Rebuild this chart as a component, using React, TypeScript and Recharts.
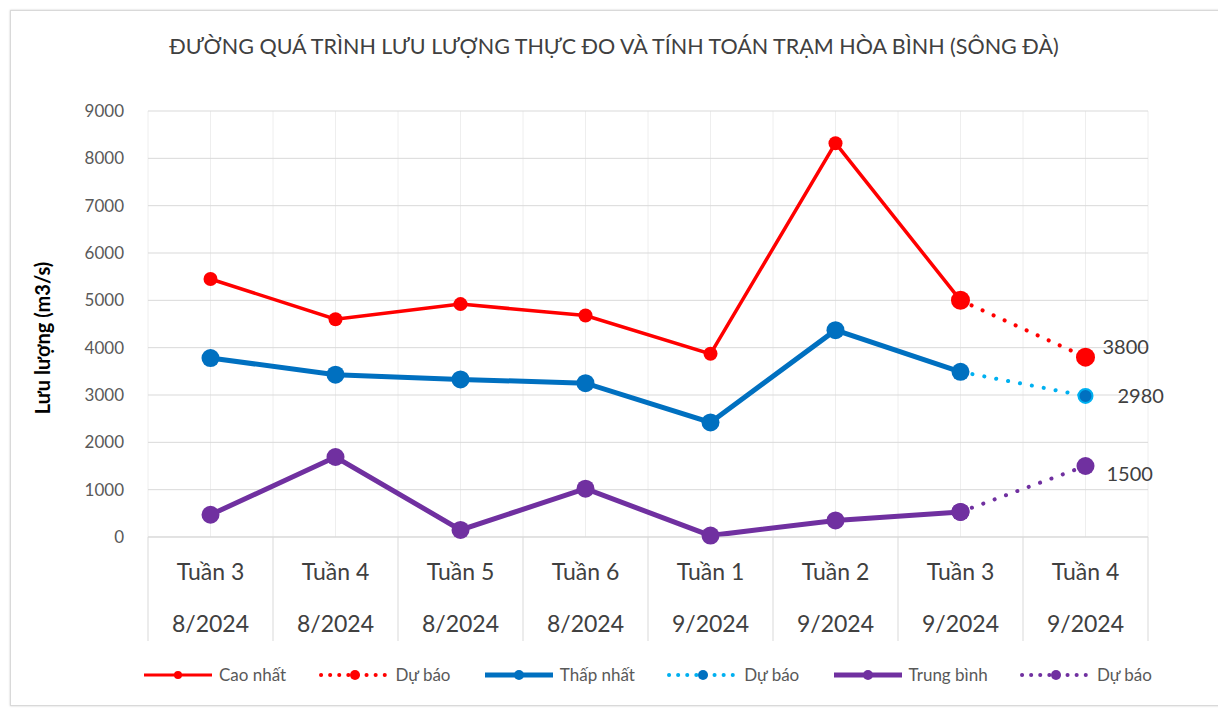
import React from "react";
import {
  ComposedChart,
  Line,
  XAxis,
  YAxis,
  CartesianGrid,
  LabelList,
} from "recharts";

const weeks = ["Tuần 3", "Tuần 4", "Tuần 5", "Tuần 6", "Tuần 1", "Tuần 2", "Tuần 3", "Tuần 4"];
const months = ["8/2024", "8/2024", "8/2024", "8/2024", "9/2024", "9/2024", "9/2024", "9/2024"];

const maxFlow = [5450, 4600, 4920, 4680, 3870, 8320, 5000, null];
const maxForecast = [null, null, null, null, null, null, 5000, 3800];
const minFlow = [3780, 3430, 3330, 3250, 2420, 4370, 3490, null];
const minForecast = [null, null, null, null, null, null, 3490, 2980];
const avgFlow = [470, 1690, 150, 1020, 30, 350, 530, null];
const avgForecast = [null, null, null, null, null, null, 530, 1500];

const yTicks = [0, 1000, 2000, 3000, 4000, 5000, 6000, 7000, 8000, 9000];

const data = weeks.map((w, i) => ({
  key: i,
  week: w,
  month: months[i],
  max: maxFlow[i],
  maxF: maxForecast[i],
  min: minFlow[i],
  minF: minForecast[i],
  avg: avgFlow[i],
  avgF: avgForecast[i],
}));

const RED = "#FF0000";
const BLUE = "#0070C0";
const LIGHT_BLUE = "#00B0F0";
const PURPLE = "#7030A0";
const FONT = "Lato, 'Open Sans', sans-serif";

const CategoryTick = (props: any) => {
  const { x, y, payload, index } = props;
  const d = data[payload.value];
  const half = 62.5;
  return (
    <g>
      <line x1={x - half} x2={x - half} y1={y - 8} y2={y + 96} stroke="#D9D9D9" />
      {index === data.length - 1 && (
        <line x1={x + half} x2={x + half} y1={y - 8} y2={y + 96} stroke="#D9D9D9" />
      )}
      <text x={x} y={y + 35} textAnchor="middle" fontSize={23} fill="#404040" fontFamily={FONT}>
        {d.week}
      </text>
      <text x={x} y={y + 87} textAnchor="middle" fontSize={23} fill="#404040" fontFamily={FONT}>
        {d.month}
      </text>
    </g>
  );
};

const endLabel = (dx: number, dy: number) => (props: any) => {
  const { x, y, value, index } = props;
  if (index !== data.length - 1 || value == null) return null;
  return (
    <text x={x + dx} y={y + dy + 7} fontSize={20} fill="#404040" fontFamily={FONT}>
      {value}
    </text>
  );
};

// forecast marker only on the last (forecast) week
const lastDot = (r: number, fill: string, stroke: string) => (props: any) => {
  const { cx, cy, index } = props;
  if (index !== data.length - 1 || cy == null) return <g key={index} />;
  return <circle key={index} cx={cx} cy={cy} r={r} fill={fill} stroke={stroke} strokeWidth={2} />;
};

const legendItems = [
  { label: "Cao nhất", color: RED, dotted: false, w: 3, r: 4 },
  { label: "Dự báo", color: RED, dotted: true, w: 3, r: 5 },
  { label: "Thấp nhất", color: BLUE, dotted: false, w: 5, r: 5 },
  { label: "Dự báo", color: LIGHT_BLUE, dotted: true, w: 3, r: 5, fill: BLUE },
  { label: "Trung bình", color: PURPLE, dotted: false, w: 5, r: 5 },
  { label: "Dự báo", color: PURPLE, dotted: true, w: 3, r: 5 },
];

const LegendRow = () => (
  <div
    style={{
      position: "absolute",
      top: 664,
      left: 142,
      width: 1010,
      display: "flex",
      justifyContent: "space-between",
      fontFamily: FONT,
      fontSize: 17,
      color: "#595959",
    }}
  >
    {legendItems.map((it, i) => (
      <div key={i} style={{ display: "flex", alignItems: "center", gap: 5 }}>
        <svg width={72} height={16}>
          <line
            x1={2}
            x2={70}
            y1={8}
            y2={8}
            stroke={it.color}
            strokeWidth={it.dotted ? 4 : it.w}
            strokeDasharray={it.dotted ? "0.1 9" : undefined}
            strokeLinecap={it.dotted ? "round" : "butt"}
          />
          <circle cx={36} cy={8} r={it.r} fill={it.fill || it.color} />
        </svg>
        <span>{it.label}</span>
      </div>
    ))}
  </div>
);

const vertCoords = ({ offset }: any) => {
  const step = offset.width / data.length;
  const out: number[] = [];
  for (let i = 0; i <= data.length * 2; i++) out.push(offset.left + (step / 2) * i);
  return out;
};

export default function App() {
  return (
    <div style={{ position: "absolute", left: 0, top: 0, width: 1218, height: 713, background: "#fff", overflow: "hidden" }}>
      <div
        style={{
          position: "absolute",
          left: 10,
          top: 10,
          width: 1220,
          height: 694,
          border: "1px solid #D9D9D9",
          boxShadow: "0 0 2px #ccc",
        }}
      />
      <div
        style={{
          position: "absolute",
          top: 33,
          left: 0,
          width: 1228,
          textAlign: "center",
          fontFamily: FONT,
          fontSize: 21.5,
          color: "#404040",
        }}
      >
        ĐƯỜNG QUÁ TRÌNH LƯU LƯỢNG THỰC ĐO VÀ TÍNH TOÁN TRẠM HÒA BÌNH (SÔNG ĐÀ)
      </div>
      <div
        style={{
          position: "absolute",
          left: 42,
          top: 338,
          transform: "translate(-50%, -50%) rotate(-90deg)",
          fontFamily: FONT,
          fontSize: 20,
          fontWeight: 700,
          color: "#000",
          whiteSpace: "nowrap",
        }}
      >
        Lưu lượng (m3/s)
      </div>
      <ComposedChart
        width={1218}
        height={713}
        data={data}
        margin={{ top: 111, right: 70, left: 0, bottom: 0 }}
        style={{ position: "absolute", left: 0, top: 0 }}
      >
        <CartesianGrid horizontal={false} stroke="#EEEEEE" verticalCoordinatesGenerator={vertCoords} />
        <CartesianGrid vertical={false} stroke="#D9D9D9" />
        <XAxis
          dataKey="key"
          axisLine={{ stroke: "#D9D9D9" }}
          tickLine={false}
          tick={<CategoryTick />}
          interval={0}
          height={176}
          padding={{ left: 62.5, right: 62.5 }}
        />
        <YAxis
          width={148}
          domain={[0, 9000]}
          ticks={yTicks}
          axisLine={false}
          tickLine={false}
          tick={{ fontSize: 17, fill: "#595959", fontFamily: FONT }}
          tickMargin={18}
        />
        <Line
          dataKey="maxF"
          stroke={RED}
          strokeWidth={4}
          strokeDasharray="0.1 12"
          strokeLinecap="round"
          dot={{ r: 9.5, fill: RED, stroke: RED, strokeWidth: 0, strokeDasharray: "" }}
          isAnimationActive={false}
        >
          <LabelList dataKey="maxF" content={endLabel(17, -10)} />
        </Line>
        <Line
          dataKey="max"
          stroke={RED}
          strokeWidth={3.5}
          dot={{ r: 7, fill: RED, stroke: RED, strokeWidth: 0 }}
          isAnimationActive={false}
        />
        <Line
          dataKey="minF"
          stroke={LIGHT_BLUE}
          strokeWidth={4}
          strokeDasharray="0.1 12"
          strokeLinecap="round"
          dot={lastDot(7, BLUE, LIGHT_BLUE)}
          isAnimationActive={false}
        >
          <LabelList dataKey="minF" content={endLabel(32, 0)} />
        </Line>
        <Line
          dataKey="min"
          stroke={BLUE}
          strokeWidth={5}
          dot={{ r: 9, fill: BLUE, stroke: BLUE, strokeWidth: 0 }}
          isAnimationActive={false}
        />
        <Line
          dataKey="avgF"
          stroke={PURPLE}
          strokeWidth={4}
          strokeDasharray="0.1 12"
          strokeLinecap="round"
          dot={{ r: 9, fill: PURPLE, stroke: PURPLE, strokeWidth: 0, strokeDasharray: "" }}
          isAnimationActive={false}
        >
          <LabelList dataKey="avgF" content={endLabel(21, 8)} />
        </Line>
        <Line
          dataKey="avg"
          stroke={PURPLE}
          strokeWidth={5}
          dot={{ r: 9, fill: PURPLE, stroke: PURPLE, strokeWidth: 0 }}
          isAnimationActive={false}
        />
      </ComposedChart>
      <LegendRow />
    </div>
  );
}
